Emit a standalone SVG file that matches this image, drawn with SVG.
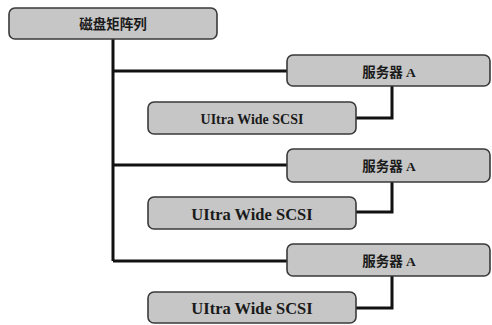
<svg xmlns="http://www.w3.org/2000/svg" width="492" height="325" viewBox="0 0 492 325">
<style>
.box{fill:#c6c6c6;stroke:#3a3a3a;stroke-width:1.6}
.cn{font-family:"Liberation Serif","Noto Sans CJK SC",serif;font-weight:bold;font-size:13.5px;fill:#1a1a1a;text-anchor:middle;dominant-baseline:central}
.en{font-family:"Liberation Serif",serif;font-weight:bold;fill:#1a1a1a;text-anchor:middle;dominant-baseline:central}
.ln{fill:none;stroke:#111;stroke-width:3}
</style>
<rect width="492" height="325" fill="#fff"/>
<g id="connectors">
<path class="ln" d="M113 39 V261 M113 71 H287 M113 165 H287 M113 261 H287"/>
<path class="ln" d="M392 86 V118 H356 M392 182 V212 H356 M392 276 V308 H356"/>
</g>
<g id="disk-array">
<rect class="box" x="9" y="8" width="208" height="31" rx="6"/>
<text class="cn" x="113" y="24.5">磁盘矩阵列</text>
</g>
<g id="server-1">
<rect class="box" x="287" y="55" width="203" height="31" rx="6"/>
<text class="cn" x="389" y="72">服务器 A</text>
</g>
<g id="scsi-1">
<rect class="box" x="148" y="102" width="208" height="32" rx="6"/>
<text class="en" x="252" y="119" font-size="14">UItra Wide SCSI</text>
</g>
<g id="server-2">
<rect class="box" x="287" y="149" width="203" height="33" rx="6"/>
<text class="cn" x="389" y="166.5">服务器 A</text>
</g>
<g id="scsi-2">
<rect class="box" x="148" y="197" width="208" height="32" rx="6"/>
<text class="en" x="252" y="214" font-size="16.5">UItra Wide SCSI</text>
</g>
<g id="server-3">
<rect class="box" x="287" y="244" width="203" height="32" rx="6"/>
<text class="cn" x="389" y="261.5">服务器 A</text>
</g>
<g id="scsi-3">
<rect class="box" x="148" y="292" width="208" height="31" rx="6"/>
<text class="en" x="252" y="308.5" font-size="16.5">UItra Wide SCSI</text>
</g>
</svg>
